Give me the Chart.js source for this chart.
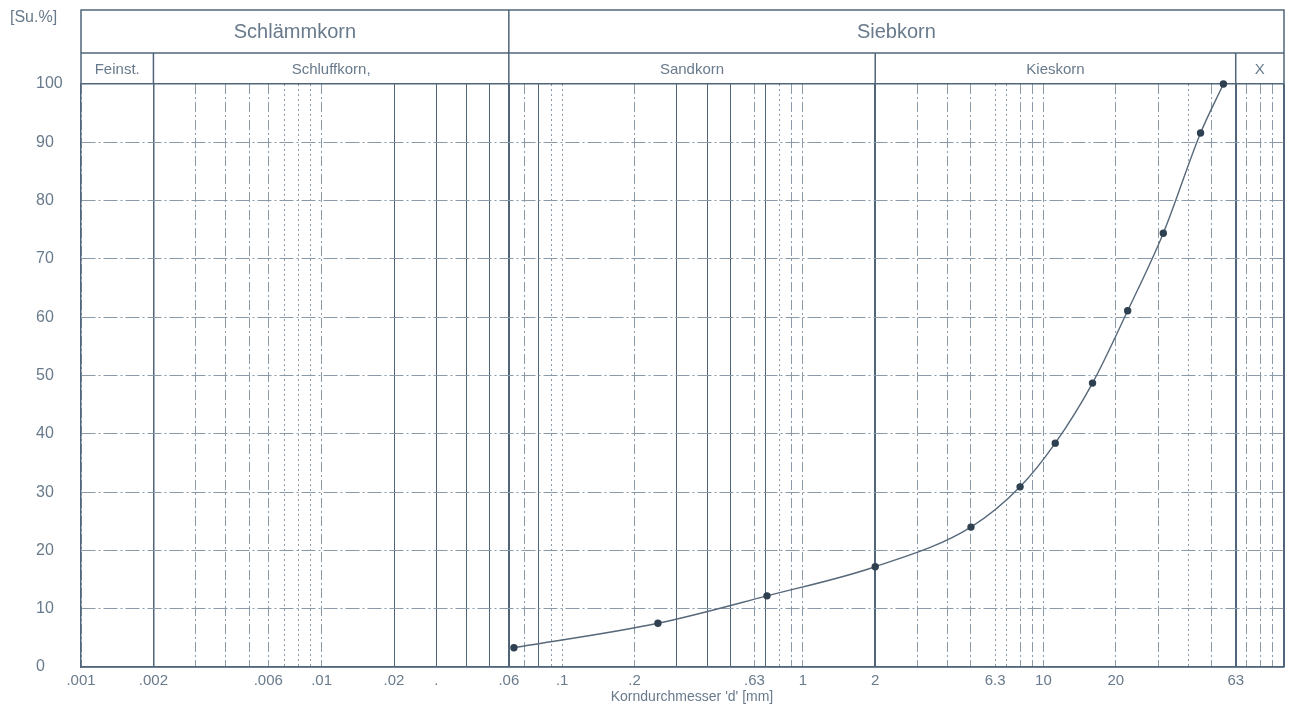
<!DOCTYPE html>
<html>
<head>
<meta charset="utf-8">
<script src="https://cdn.jsdelivr.net/npm/chart.js@4"></script>
<style>
  body { margin: 0; background: #fff; }
  canvas { display: block; }
</style>
</head>
<body>
<canvas id="sieve" width="1290" height="712"></canvas>
<script>
// ===== data =====
const sieveSizes = [0.063, 0.25, 0.71, 2, 5, 8, 11.2, 16, 22.4, 31.5, 45, 56];
const passing = [3.3, 7.5, 12.2, 17.2, 24.0, 30.9, 38.4, 48.7, 61.1, 74.4, 91.6, 100];

const tickValues = [0.001, 0.002, 0.006, 0.01, 0.02, 0.03, 0.06, 0.1, 0.2, 0.63, 1, 2, 6.3, 10, 20, 63];
const tickLabels = [".001", ".002", ".006", ".01", ".02", ".", ".06", ".1", ".2", ".63", "1", "2", "6.3", "10", "20", "63"];

const gridValues = [
  0.001, 0.002, 0.003, 0.004, 0.005, 0.006, 0.007, 0.008, 0.009,
  0.01, 0.02, 0.03, 0.04, 0.05, 0.06, 0.07, 0.08, 0.09,
  0.1, 0.2, 0.3, 0.4, 0.5, 0.63, 0.7, 0.8, 0.9,
  1, 2, 3, 4, 5, 6.3, 7, 8, 9,
  10, 20, 30, 40, 50, 63, 70, 80, 90, 100
];
const boundaries = [0.002, 0.06, 2, 63];
const solidLines = [0.02, 0.03, 0.04, 0.05, 0.08, 0.3, 0.4, 0.5, 0.7];
const dottedLines = [0.007, 0.008, 0.009, 0.09, 0.1, 0.8, 6.3, 7, 40];

// header rows: name, from, to (mm)
const headerTop = ["Schlämmkorn", "Siebkorn"];
const headerTopRange = [[0.001, 0.06], [0.06, 100]];
const headerSub = ["Feinst.", "Schluffkorn,", "Sandkorn", "Kieskorn", "X"];
const headerSubRange = [[0.001, 0.002], [0.002, 0.06], [0.06, 2], [2, 63], [63, 100]];

const ink = "#51657a";
const inkLight = "#8a9aa9";
const textCol = "#687a8b";
const fontName = "'Liberation Sans', Arial, sans-serif";

// ===== header / frame =====
const headerPlugin = {
  id: "header",
  afterDraw(chart) {
    const { ctx, chartArea: a } = chart;
    const x = chart.scales.x;
    const top = 10, mid = 53, bot = a.top;
    ctx.save();
    ctx.strokeStyle = ink;
    ctx.lineWidth = 1.5;
    ctx.beginPath();
    ctx.moveTo(a.left, bot); ctx.lineTo(a.left, top);
    ctx.lineTo(a.right, top); ctx.lineTo(a.right, bot);
    ctx.moveTo(a.left, mid); ctx.lineTo(a.right, mid);
    const x06 = x.getPixelForValue(0.06);
    ctx.moveTo(x06, top); ctx.lineTo(x06, mid);
    boundaries.forEach(v => {
      const px = x.getPixelForValue(v);
      ctx.moveTo(px, mid); ctx.lineTo(px, bot);
    });
    ctx.stroke();

    ctx.fillStyle = textCol;
    ctx.textAlign = "center";
    ctx.textBaseline = "middle";
    ctx.font = "20px " + fontName;
    headerTop.forEach((t, i) => {
      const r = headerTopRange[i];
      ctx.fillText(t, (x.getPixelForValue(r[0]) + x.getPixelForValue(r[1])) / 2, 32);
    });
    ctx.font = "15px " + fontName;
    headerSub.forEach((t, i) => {
      const r = headerSubRange[i];
      ctx.fillText(t, (x.getPixelForValue(r[0]) + x.getPixelForValue(r[1])) / 2, 70);
    });

    ctx.font = "16px " + fontName;
    ctx.textAlign = "left";
    ctx.fillText("[Su.%]", 10, 18);

    ctx.font = "14px " + fontName;
    ctx.textAlign = "center";
    ctx.fillText("Korndurchmesser 'd' [mm]", 692, 697);
    ctx.restore();
  }
};

function lineStyle(v) {
  if (boundaries.includes(v) || v === 100) return "bound";
  if (solidLines.includes(v)) return "solid";
  if (dottedLines.includes(v)) return "dot";
  return "dash";
}

new Chart(document.getElementById("sieve"), {
  type: "line",
  data: {
    datasets: [{
      data: sieveSizes.map((d, i) => ({ x: d, y: passing[i] })),
      borderColor: "#56687a",
      borderWidth: 1.4,
      pointRadius: 3,
      pointBackgroundColor: "#2f4050",
      pointBorderColor: "#2f4050",
      cubicInterpolationMode: "monotone",
      clip: 8
    }]
  },
  options: {
    responsive: false,
    animation: false,
    layout: { padding: { left: 36, right: 6, top: 84, bottom: 0 } },
    plugins: { legend: { display: false }, tooltip: { enabled: false } },
    scales: {
      x: {
        type: "logarithmic",
        min: 0.001,
        max: 100,
        afterFit: s => { s.height = 45; },
        afterBuildTicks: s => { s.ticks = gridValues.map(v => ({ value: v })); },
        ticks: {
          autoSkip: false,
          maxRotation: 0,
          padding: 5,
          color: textCol,
          font: { family: fontName, size: 15 },
          callback: v => {
            const i = tickValues.indexOf(v);
            return i >= 0 ? tickLabels[i] : "";
          }
        },
        grid: {
          drawTicks: false,
          color: ctx => {
            if (!ctx.tick) return ink;
            const s = lineStyle(ctx.tick.value);
            return s === "bound" || s === "solid" ? ink : inkLight;
          },
          lineWidth: ctx => {
            if (!ctx.tick) return 1;
            const s = lineStyle(ctx.tick.value);
            if (s === "bound") return ctx.tick.value === 0.002 ? 1.5 : 2;
            return 1;
          }
        },
        border: {
          color: ink,
          width: 1.5,
          dash: ctx => {
            if (!ctx.tick) return [];
            const s = lineStyle(ctx.tick.value);
            if (s === "dash") return [10, 3, 2, 3];
            if (s === "dot") return [2, 3];
            return [];
          }
        }
      },
      y: {
        min: 0,
        max: 100,
        afterFit: s => { s.width = 45; },
        ticks: {
          stepSize: 10,
          crossAlign: "far",
          color: textCol,
          font: { family: fontName, size: 16 }
        },
        grid: {
          drawTicks: false,
          color: ctx => (ctx.tick && ctx.tick.value === 100 ? ink : inkLight),
          lineWidth: ctx => (ctx.tick && ctx.tick.value === 100 ? 1.5 : 1)
        },
        border: {
          color: ink,
          width: 1.5,
          dash: ctx => (ctx.tick && ctx.tick.value !== 100 && ctx.tick.value !== 0 ? [14, 3, 2, 3] : [])
        }
      }
    }
  },
  plugins: [headerPlugin]
});
</script>
</body>
</html>
